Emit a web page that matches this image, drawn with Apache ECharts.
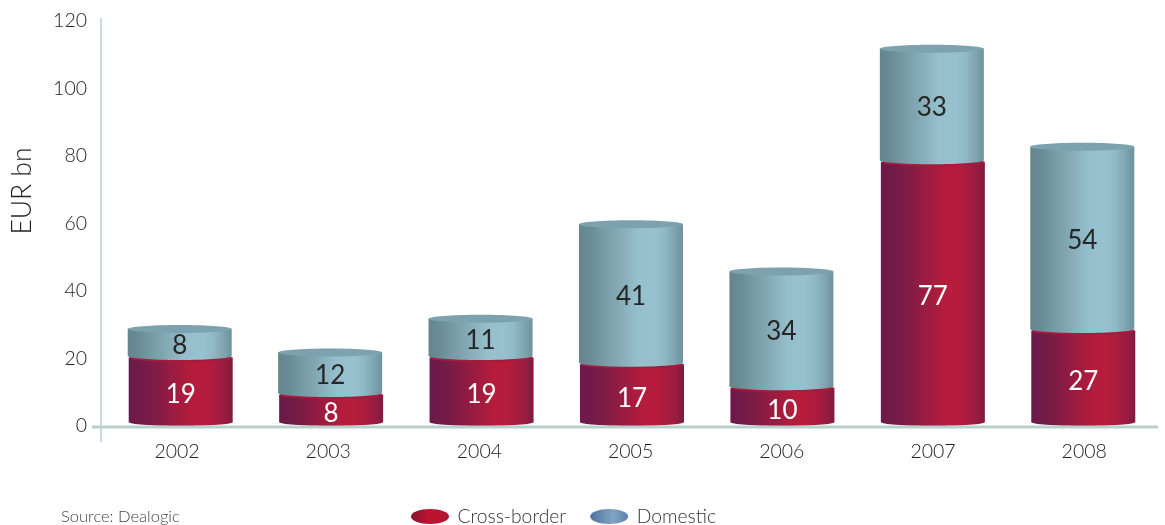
<!DOCTYPE html>
<html>
<head>
<meta charset="utf-8">
<style>html,body{margin:0;padding:0;background:#fff}#c{width:1165px;height:525px}</style>
<script src="https://cdn.jsdelivr.net/npm/echarts@6/dist/echarts.min.js"></script>
</head>
<body>
<div id="c"></div>
<script>
const years = ['2002', '2003', '2004', '2005', '2006', '2007', '2008'];
const crossBorder = [19, 8, 19, 17, 10, 77, 27];
const domestic = [8, 12, 11, 41, 34, 33, 54];
const yTicks = { min: 0, max: 120, interval: 20 };

const FONT = 'Lato, "Open Sans", sans-serif';
const chart = echarts.init(document.getElementById('c'), null, { renderer: 'canvas' });

// Horizontal shading of each cylinder, with light banding along the curve
const redStops = [
  [0, '#6a1a4a'], [0.12, '#731a48'], [0.2, '#7a1b46'], [0.3, '#871b44'], [0.42, '#9a1c40'],
  [0.52, '#a71c3e'], [0.6, '#b51c3c'], [0.72, '#b81c3c'], [0.84, '#a81c3e'], [0.93, '#971c3f'], [1, '#7e1b42']
];
const blueStops = [
  [0, '#64858e'], [0.12, '#6b8d97'], [0.22, '#759aa4'], [0.34, '#80a6b1'], [0.46, '#8cb3bf'],
  [0.56, '#95bfcc'], [0.72, '#97c1ce'], [0.82, '#8fb9c5'], [0.9, '#82a9b4'], [1, '#6f929d']
];
const shade = stops => new echarts.graphic.LinearGradient(0, 0, 1, 0,
  stops.map(s => ({ offset: s[0], color: s[1] })));

// Flattened disc used as the legend key
const DISC = 'path://M0 7.5C0 3.4 8.5 0 19 0S38 3.4 38 7.5 29.5 15 19 15 0 11.6 0 7.5Z';

// Draws one stacked segment as a cylinder: value[1] is its base, value[2] its top
function cylinder(opts) {
  return function (params, api) {
    const RY = 4;
    const x = api.coord([api.value(0), 0])[0] + opts.dx;
    const w = 104;
    const yLow = api.coord([0, api.value(1)])[1] - opts.lift;
    const yHigh = api.coord([0, api.value(2)])[1] - opts.lift;
    const fill = shade(opts.stops);
    return {
      type: 'group',
      children: [
        { type: 'ellipse', shape: { cx: x, cy: yLow - RY, rx: w / 2, ry: RY }, style: { fill } },
        { type: 'rect', shape: { x: x - w / 2, y: yHigh - RY, width: w, height: yLow - yHigh }, style: { fill } },
        { type: 'ellipse', shape: { cx: x, cy: yHigh - RY, rx: w / 2, ry: RY }, style: { fill: opts.lid } },
        {
          type: 'text',
          style: {
            x: x, y: (yLow + yHigh) / 2 - opts.lift + 1,
            text: String(api.value(2) - api.value(1)),
            fill: opts.textColor, font: '26px ' + FONT, align: 'center', verticalAlign: 'middle'
          }
        }
      ]
    };
  };
}

const redData = years.map((y, i) => [i, 0, crossBorder[i]]);
const blueData = years.map((y, i) => [i, crossBorder[i], crossBorder[i] + domestic[i]]);

chart.setOption({
  animation: false,
  backgroundColor: '#ffffff',
  grid: [
    { left: 105, width: 1053, top: 21, height: 405 },
    { left: 101.4, width: 1058.4, top: 21, height: 405 }
  ],
  title: {
    text: 'Source: Dealogic', left: 61, top: 508, padding: 0,
    textStyle: { fontFamily: FONT, fontSize: 16.5, fontWeight: 300, color: '#444' }
  },
  legend: {
    left: 411, top: 507, padding: 0, itemWidth: 38, itemHeight: 15, itemGap: 24,
    selectedMode: false, symbolKeepAspect: false,
    textStyle: { fontFamily: FONT, fontSize: 19.3, fontWeight: 300, color: '#333', padding: [0, 0, 0, 3.5] },
    data: [
      { name: 'Cross-border', icon: DISC, itemStyle: { color: shade([[0, '#8e1030'], [0.5, '#c0142f'], [1, '#b01232']]) } },
      { name: 'Domestic', icon: DISC, itemStyle: { color: shade([[0, '#4f719f'], [0.6, '#7fa5c2'], [1, '#5f83a8']]) } }
    ]
  },
  xAxis: [
    { type: 'category', gridIndex: 0, data: years, axisLine: { show: false }, axisTick: { show: false }, axisLabel: { show: false } },
    {
      type: 'category', gridIndex: 1, data: years, axisLine: { show: false }, axisTick: { show: false },
      axisLabel: { fontFamily: FONT, fontSize: 19.5, fontWeight: 300, color: '#222', margin: 16 }
    }
  ],
  yAxis: [
    {
      type: 'value', gridIndex: 0, min: yTicks.min, max: yTicks.max, interval: yTicks.interval,
      axisLine: { show: false }, axisTick: { show: false }, splitLine: { show: false },
      axisLabel: { fontFamily: FONT, fontSize: 19.5, fontWeight: 300, color: '#222', margin: 18 }
    },
    { type: 'value', gridIndex: 1, min: yTicks.min, max: yTicks.max, interval: yTicks.interval, show: false }
  ],
  series: [
    {
      name: 'Cross-border', type: 'custom', xAxisIndex: 0, yAxisIndex: 0, z: 2,
      data: redData, encode: { x: 0, y: [1, 2] },
      renderItem: cylinder({ stops: redStops, lid: '#a51b3d', textColor: '#ffffff', lift: 0, dx: 0.5 })
    },
    {
      name: 'Domestic', type: 'custom', xAxisIndex: 0, yAxisIndex: 0, z: 3,
      data: blueData, encode: { x: 0, y: [1, 2] },
      renderItem: cylinder({ stops: blueStops, lid: '#7da2af', textColor: '#262626', lift: 2, dx: -0.5 })
    }
  ],
  graphic: [
    { type: 'line', z: 1, shape: { x1: 101, y1: 18, x2: 101, y2: 442 }, style: { stroke: '#b7d0cc', lineWidth: 1.5 } },
    { type: 'line', z: 10, shape: { x1: 92, y1: 427, x2: 1158, y2: 427 }, style: { stroke: '#b7d0cc', lineWidth: 3 } },
    {
      type: 'text', x: 22, y: 191, rotation: Math.PI / 2,
      style: { text: 'EUR bn', font: '300 26.5px ' + FONT, fill: '#222', align: 'center', verticalAlign: 'middle' }
    }
  ]
});
</script>
</body>
</html>
